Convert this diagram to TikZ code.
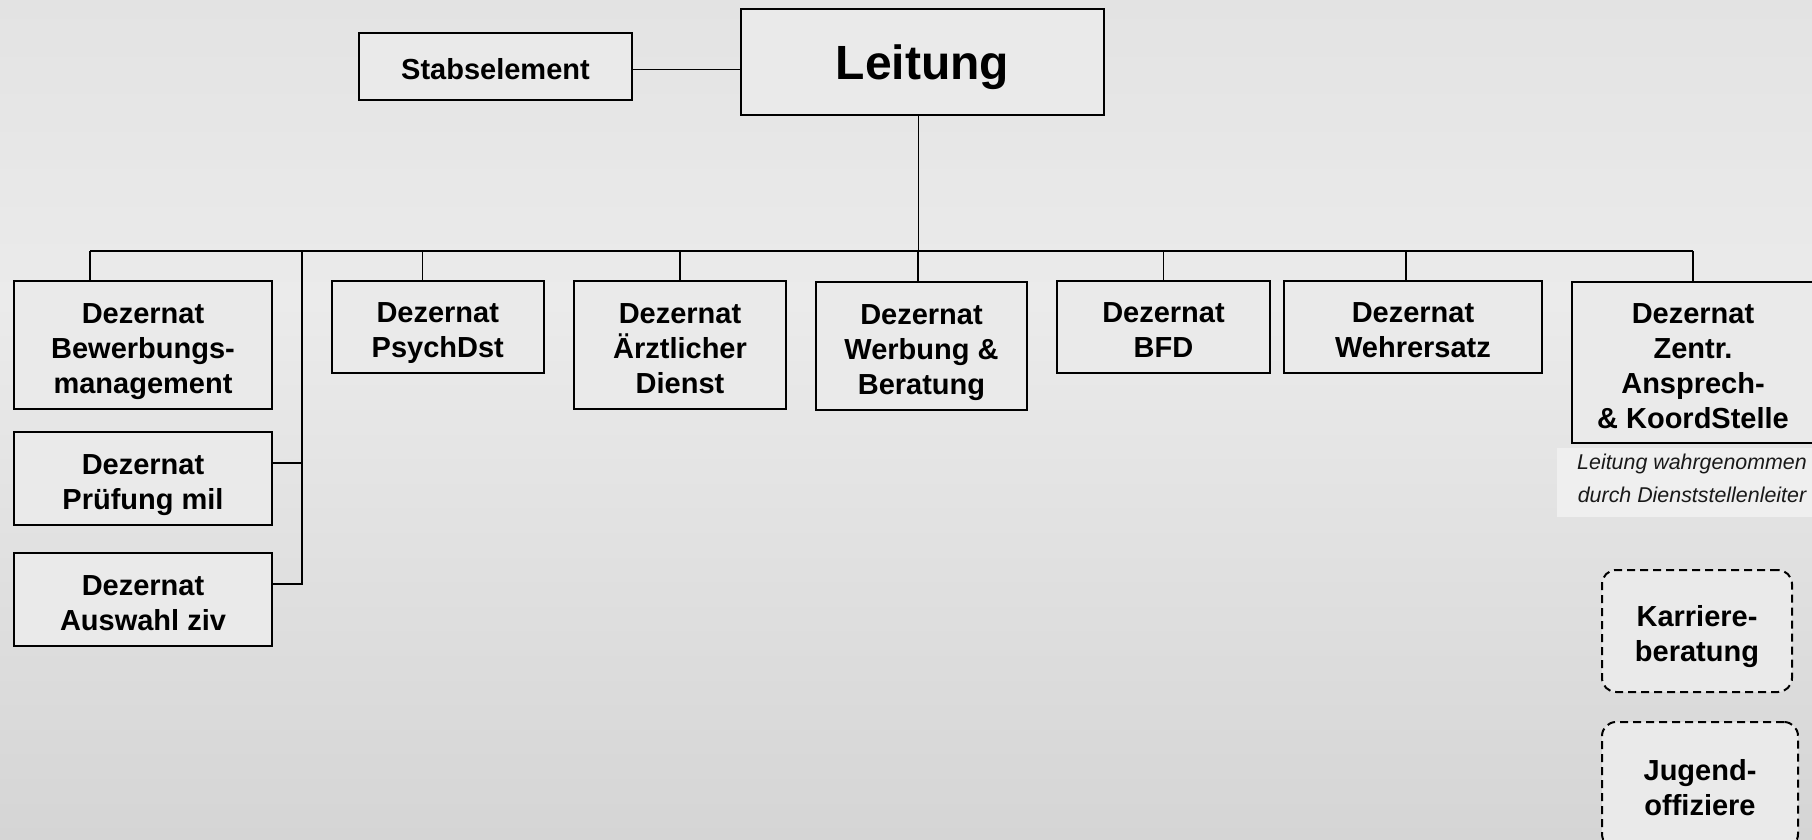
\documentclass[tikz,border=0pt]{standalone}
\usepackage{fontspec}
\setmainfont{Liberation Sans}
\usetikzlibrary{calc}
\definecolor{boxfill}{HTML}{EAEAEA}
\definecolor{notefill}{HTML}{EFEFEF}
\definecolor{bgtop}{HTML}{E3E3E3}
\definecolor{bgmid}{HTML}{EBEBEB}
\definecolor{bgbot}{HTML}{D5D5D5}
\newcommand\topstrut{\rule{0pt}{1.152em}}
\newcommand\botstrut{\rule[-0.241em]{0pt}{0.241em}}
\begin{document}
\begin{tikzpicture}[x=1pt,y=-1pt,
  box/.style={draw=black, line width=2pt, fill=boxfill, align=center, inner sep=0pt,
    font=\bfseries\fontsize{29}{35}\selectfont},
  dbox/.style={box, dash pattern=on 8pt off 5pt, rounded corners=14pt},
  conn/.style={draw=black, line width=1.8pt}]
% background
\shade[top color=bgtop, bottom color=bgmid] (0,0) rectangle (1812,300);
\shade[top color=bgmid, bottom color=bgbot] (0,299) rectangle (1812,840);
\useasboundingbox (0,0) rectangle (1812,840);

% top level
\node[box, minimum width=363pt, minimum height=106pt, text height=46pt, text depth=10pt,
  font=\bfseries\fontsize{48}{56}\selectfont] (lei) at (922.5,62) {Leitung};
\node[box, minimum width=273pt, minimum height=67pt] (stab) at (495.5,66.5) {\topstrut Stabselement\botstrut};

% second level
\node[box, minimum width=258pt, minimum height=128pt] (bew) at (143,345) {\topstrut Dezernat\\Bewerbungs-\\management\botstrut};
\node[box, minimum width=258pt, minimum height=93pt] (pru) at (143,478.5) {\topstrut Dezernat\\Prüfung mil\botstrut};
\node[box, minimum width=258pt, minimum height=93pt] (aus) at (143,599.5) {\topstrut Dezernat\\Auswahl ziv\botstrut};
\node[box, minimum width=212.5pt, minimum height=92pt] (psy) at (437.75,327) {\topstrut Dezernat\\PsychDst\botstrut};
\node[box, minimum width=212pt, minimum height=128pt] (arz) at (680,345) {\topstrut Dezernat\\Ärztlicher\\Dienst\botstrut};
\node[box, minimum width=211pt, minimum height=128pt] (wer) at (921.5,346) {\topstrut Dezernat\\Werbung \&\\Beratung\botstrut};
\node[box, minimum width=213pt, minimum height=92pt] (bfd) at (1163.5,327) {\topstrut Dezernat\\BFD\botstrut};
\node[box, minimum width=258pt, minimum height=92pt] (weh) at (1413,327) {\topstrut Dezernat\\Wehrersatz\botstrut};
\node[box, minimum width=242pt, minimum height=161pt] (zen) at (1693,362.5) {\topstrut Dezernat\\Zentr.\\Ansprech-\\\& KoordStelle\botstrut};

% note
\node[fill=notefill, minimum width=255pt, minimum height=69pt, inner sep=0pt] (notebg) at (1684.5,482.5) {};
\node[align=center, inner sep=0pt, text=black!90,
  font=\itshape\fontsize{21.4}{33}\selectfont] (note) at (1692,478) {Leitung wahrgenommen\\durch Dienststellenleiter};

% dashed boxes
\node[dbox, minimum width=190pt, minimum height=122pt] (kar) at (1697,631) {\topstrut Karriere-\\beratung\botstrut};
\node[dbox, minimum width=196pt, minimum height=126pt] (jug) at (1700,785) {\topstrut Jugend-\\offiziere\botstrut};

% connectors
\coordinate (bus) at (0,251);
\coordinate (spine) at (302,251);
\draw[conn] ([yshift=-3pt]stab.east) -- ([yshift=-3pt]stab.east -| lei.west);
\draw[conn] ([xshift=-4pt]lei.south) -- ([xshift=-4pt]lei.south |- bus);
\draw[conn] ([xshift=-53pt]bew.north |- bus) -- (zen.north |- bus);
\draw[conn] ([xshift=-53pt]bew.north) -- ([xshift=-53pt]bew.north |- bus);
\draw[conn] ([xshift=-15.35pt]psy.north) -- ([xshift=-15.35pt]psy.north |- bus);
\draw[conn] (arz.north) -- (arz.north |- bus);
\draw[conn] ([xshift=-3.2pt]wer.north) -- ([xshift=-3.2pt]wer.north |- bus);
\draw[conn] (bfd.north) -- (bfd.north |- bus);
\draw[conn] ([xshift=-7.3pt]weh.north) -- ([xshift=-7.3pt]weh.north |- bus);
\draw[conn] (zen.north) -- (zen.north |- bus);
\draw[conn] (spine) |- ([yshift=15.5pt]aus.east);
\draw[conn] ([yshift=15.8pt]pru.east) -- ([yshift=15.8pt]pru.east -| spine);
\end{tikzpicture}
\end{document}
